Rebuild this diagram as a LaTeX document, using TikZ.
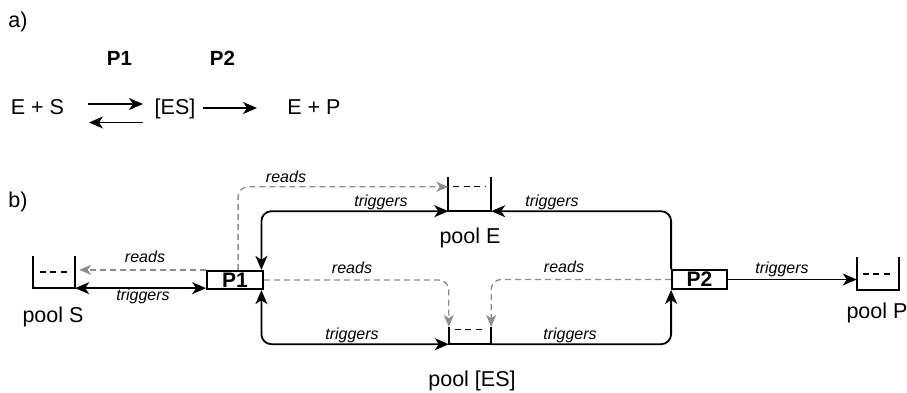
\documentclass[tikz,border=0pt]{standalone}
\usepackage{fontspec}
\setmainfont{Liberation Sans}
\usetikzlibrary{arrows.meta,calc}
\definecolor{rdgray}{RGB}{140,140,140}
\tikzset{
  atip/.tip={Stealth[length=14pt,width=12pt,inset=4pt]},
  gtip/.tip={Stealth[length=12pt,width=10pt,inset=3.5pt,fill=rdgray,color=rdgray]}
}
\begin{document}
\begin{tikzpicture}[x=1pt,y=-1pt,
  blk/.style={line width=1.8pt, draw=black},
  rd/.style={line width=1.3pt, draw=rdgray, dash pattern=on 6pt off 4pt},
  maintxt/.style={inner sep=0pt, font=\fontsize{21.5}{25}\selectfont},
  boldtxt/.style={inner sep=0pt, font=\fontsize{20.5}{24}\selectfont\bfseries},
  lbl/.style={inner sep=0pt, font=\fontsize{16}{19}\selectfont\itshape},
  pbox/.style={draw=black, line width=1.8pt, inner sep=0pt, font=\fontsize{21}{24}\selectfont\bfseries},
  poolnode/.style={inner sep=0pt, draw=none},
  inner/.style={line width=1.4pt, draw=black, dash pattern=on 6pt off 4.5pt},
  rc/.style={rounded corners=10pt}
]
\useasboundingbox (0,0) rectangle (907,392);

% ---------- part a ----------
\node[maintxt] (la) at (18,22) {a)};
\node[boldtxt] (ap1) at (119.5,58.5) {P1};
\node[boldtxt] (ap2) at (222.5,58.5) {P2};
\node[maintxt, anchor=base] (eS) at (37.5,114) {E + S};
\node[maintxt, anchor=base] (es) at (175,114) {[ES]};
\node[maintxt, anchor=base] (eP) at (314,114) {E + P};
\coordinate (f1) at (88,104);
\coordinate (f2) at (143,104);
\coordinate (b1) at (143,122.5);
\coordinate (b2) at (89,122.5);
\coordinate (g1) at (203,108);
\coordinate (g2) at (257,108);
\draw[blk, -{atip}] (f1) -- (f2);
\draw[blk, -{atip}] (b1) -- (b2);
\draw[blk, -{atip}] (g1) -- (g2);

% ---------- part b ----------
\node[maintxt] (lb) at (18,202) {b)};

\node[pbox, minimum width=56pt, minimum height=18.5pt] (P1) at (235,280) {P1};
\node[pbox, minimum width=55pt, minimum height=19pt] (P2) at (699.5,279.5) {P2};

\node[poolnode, minimum width=42pt, minimum height=32pt] (pS) at (54,272) {};
\node[poolnode, minimum width=42.5pt, minimum height=34pt] (pE) at (469.75,194) {};
\node[poolnode, minimum width=42pt, minimum height=17pt] (pES) at (470,335.5) {};
\node[poolnode, minimum width=42pt, minimum height=33pt] (pP) at (878,273.5) {};

% pool shapes
\draw[blk] (pS.north west) -- (pS.south west) -- (pS.south east) -- (pS.north east);
\draw[inner] ($(pS.west)+(7,0)$) -- ($(pS.east)+(-7,0)$);
\draw[blk] (pE.north west) -- (pE.south west) -- (pE.south east) -- (pE.north east);
\draw[inner] ($(pE.north west)+(5,9.5)$) -- ($(pE.north east)+(-5,9.5)$);
\draw[blk] (pES.north west) -- (pES.south west) -- (pES.south east) -- (pES.north east);
\draw[inner] ($(pES.north west)+(6,2.5)$) -- ($(pES.north east)+(-6,2.5)$);
\draw[blk] (pP.north west) -- (pP.south west) -- (pP.south east) -- (pP.north east);
\draw[inner] ($(pP.west)+(6,0.5)$) -- ($(pP.east)+(-6,0.5)$);

\node[maintxt] (nS) at (53,317) {pool S};
\node[maintxt] (nE) at (470,238) {pool E};
\node[maintxt] (nES) at (472,381) {pool [ES]};
\node[maintxt] (nP) at (877,313) {pool P};

% connectors
\coordinate (t1) at ($(P1.south west)+(0,-2)$);
\draw[blk, {atip}-{atip}] (t1) -- (t1 -| pS.east);
\coordinate (r1) at ($(pS.east |- P1.north west)+(4,0)$);
\draw[rd, -{gtip}] (P1.north west) -- (r1);

\coordinate (r2) at ($(P1.north west)+(32,0)$);
\draw[rd, rc, -{gtip}] (r2) |- ($(pE.north west)+(0,10)$);

\coordinate (t2) at ($(P1.north east)+(-2.5,0)$);
\draw[blk, rc, {atip}-{atip}] (t2) |- (pE.south west);
\draw[blk, rc, -{atip}] (P2.north west) |- (pE.south east);

\draw[rd, rc, -{gtip}] (P1.east) -| (pES.north west);
\draw[rd, rc, -{gtip}] (P2.west) -| (pES.north east);

\coordinate (t3) at ($(P1.south east)+(-2.5,0)$);
\draw[blk, rc, {atip}-{atip}] (t3) |- (pES.south west);
\draw[blk, rc, -{atip}] (pES.south east) -| (P2.south west);

\draw[blk, -{atip}] (P2.east) -- (P2.east -| pP.west);

% labels
\node[lbl] (lr1) at (145,257) {reads};
\node[lbl] (lt1) at (143,296) {triggers};
\node[lbl] (lr2) at (286,177) {reads};
\node[lbl] (lt2) at (381,202) {triggers};
\node[lbl] (lt3) at (552,202) {triggers};
\node[lbl] (lr3) at (352,268) {reads};
\node[lbl] (lr4) at (564,267) {reads};
\node[lbl] (lt4) at (352,335) {triggers};
\node[lbl] (lt5) at (570,335) {triggers};
\node[lbl] (lt6) at (782,269) {triggers};
\end{tikzpicture}
\end{document}
